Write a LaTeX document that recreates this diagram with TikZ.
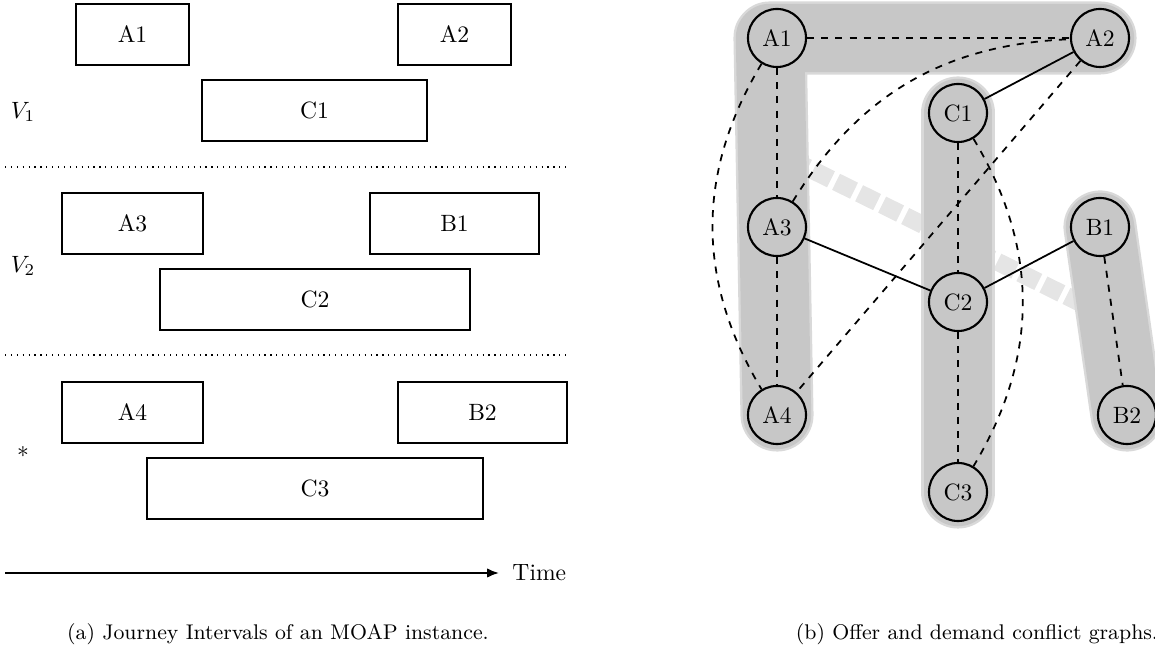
\documentclass[tikz,border=0pt]{standalone}
\usetikzlibrary{arrows.meta}
\newcommand\pxu{0.424pt}
\begin{document}
\begin{tikzpicture}[x=0.424pt,y=-0.424pt,
  ibox/.style={draw,line width=0.85pt,inner sep=0pt,minimum height=61*\pxu},
  vtx/.style={draw,circle,line width=0.9pt,minimum size=24.6pt,inner sep=0pt},
  conf/.style={line width=0.75pt},
  dconf/.style={line width=0.75pt,dashed},
  bandout/.style={line width=31pt,black!15,line cap=round,line join=round},
  bandin/.style={line width=29pt,black!22,line cap=round,line join=round},
  lightband/.style={line width=7.6pt,black!10,dash pattern=on 8.5pt off 2.4pt},
  sep/.style={dotted,line width=0.5pt},
  capt/.style={font=\small,anchor=base}]
\useasboundingbox (0,0) rectangle (1155,661);

% ---------- (a) journey intervals ----------
\node[ibox,minimum width=113*\pxu] (jA1) at (132.5,34.5) {A1};
\node[ibox,minimum width=113*\pxu] (jA2) at (454.5,34.5) {A2};
\node[ibox,minimum width=225*\pxu] (jC1) at (314.5,110.5) {C1};
\node (v1) at (23,112) {$V_1$};
\coordinate (s1a) at (5,167);
\coordinate (s1b) at (567,167);
\draw[sep] (s1a) -- (s1b);

\node[ibox,minimum width=141*\pxu] (jA3) at (132.5,223.5) {A3};
\node[ibox,minimum width=169*\pxu] (jB1) at (454.5,223.5) {B1};
\node[ibox,minimum width=310*\pxu] (jC2) at (315,299.5) {C2};
\node (v2) at (23,266) {$V_2$};
\coordinate (s2a) at (5,355);
\coordinate (s2b) at (567,355);
\draw[sep] (s2a) -- (s2b);

\node[ibox,minimum width=141*\pxu] (jA4) at (132.5,412.5) {A4};
\node[ibox,minimum width=169*\pxu] (jB2) at (482.5,412.5) {B2};
\node[ibox,minimum width=336*\pxu] (jC3) at (315,488.5) {C3};
\node (star) at (23,452) {$*$};

\coordinate (t0) at (5,573);
\node[anchor=west,inner sep=0pt] (time) at (512,573) {Time};
\draw[line width=0.85pt,-{Latex[length=5pt,width=4pt]}] (t0) -- ([xshift=-13*\pxu]time.west);

\node[capt] (capa) at (278,640) {(a) Journey Intervals of an MOAP instance.};

% ---------- (b) conflict graphs ----------
\coordinate (pA1) at (777,38);
\coordinate (pA2) at (1100,38);
\coordinate (pC1) at (958,113);
\coordinate (pA3) at (777,227);
\coordinate (pB1) at (1100,227);
\coordinate (pC2) at (958,302);
\coordinate (pA4) at (777,415);
\coordinate (pB2) at (1127,415);
\coordinate (pC3) at (958,492);
\coordinate (kink) at (770,38);
\coordinate (lb0) at (790,159);
\coordinate (lb1) at (1115,320);

\draw[lightband] (lb0) -- (lb1);
\draw[bandout] (pA4) -- (kink) -- (pA2);
\draw[bandin] (pA4) -- (kink) -- (pA2);
\draw[bandout] (pC1) -- (pC3);
\draw[bandin] (pC1) -- (pC3);
\draw[bandout] (pB1) -- (pB2);
\draw[bandin] (pB1) -- (pB2);

\node[vtx] (A1) at (pA1) {A1};
\node[vtx] (A2) at (pA2) {A2};
\node[vtx] (C1) at (pC1) {C1};
\node[vtx] (A3) at (pA3) {A3};
\node[vtx] (B1) at (pB1) {B1};
\node[vtx] (C2) at (pC2) {C2};
\node[vtx] (A4) at (pA4) {A4};
\node[vtx] (B2) at (pB2) {B2};
\node[vtx] (C3) at (pC3) {C3};

\draw[dconf] (A1) -- (A2);
\draw[dconf] (A1) -- (A3);
\draw[dconf] (A3) -- (A4);
\draw[dconf] (A1) to[bend right=31] (A4);
\draw[dconf] (A3) to[bend left=28] (A2);
\draw[dconf] (A2) -- (A4);
\draw[dconf] (C1) -- (C2);
\draw[dconf] (C2) -- (C3);
\draw[dconf] (C1) to[bend left=31] (C3);
\draw[dconf] (B1) -- (B2);
\draw[conf] (A2) -- (C1);
\draw[conf] (A3) -- (C2);
\draw[conf] (C2) -- (B1);

\node[capt] (capb) at (977,640) {(b) Offer and demand conflict graphs.};
\end{tikzpicture}
\end{document}
